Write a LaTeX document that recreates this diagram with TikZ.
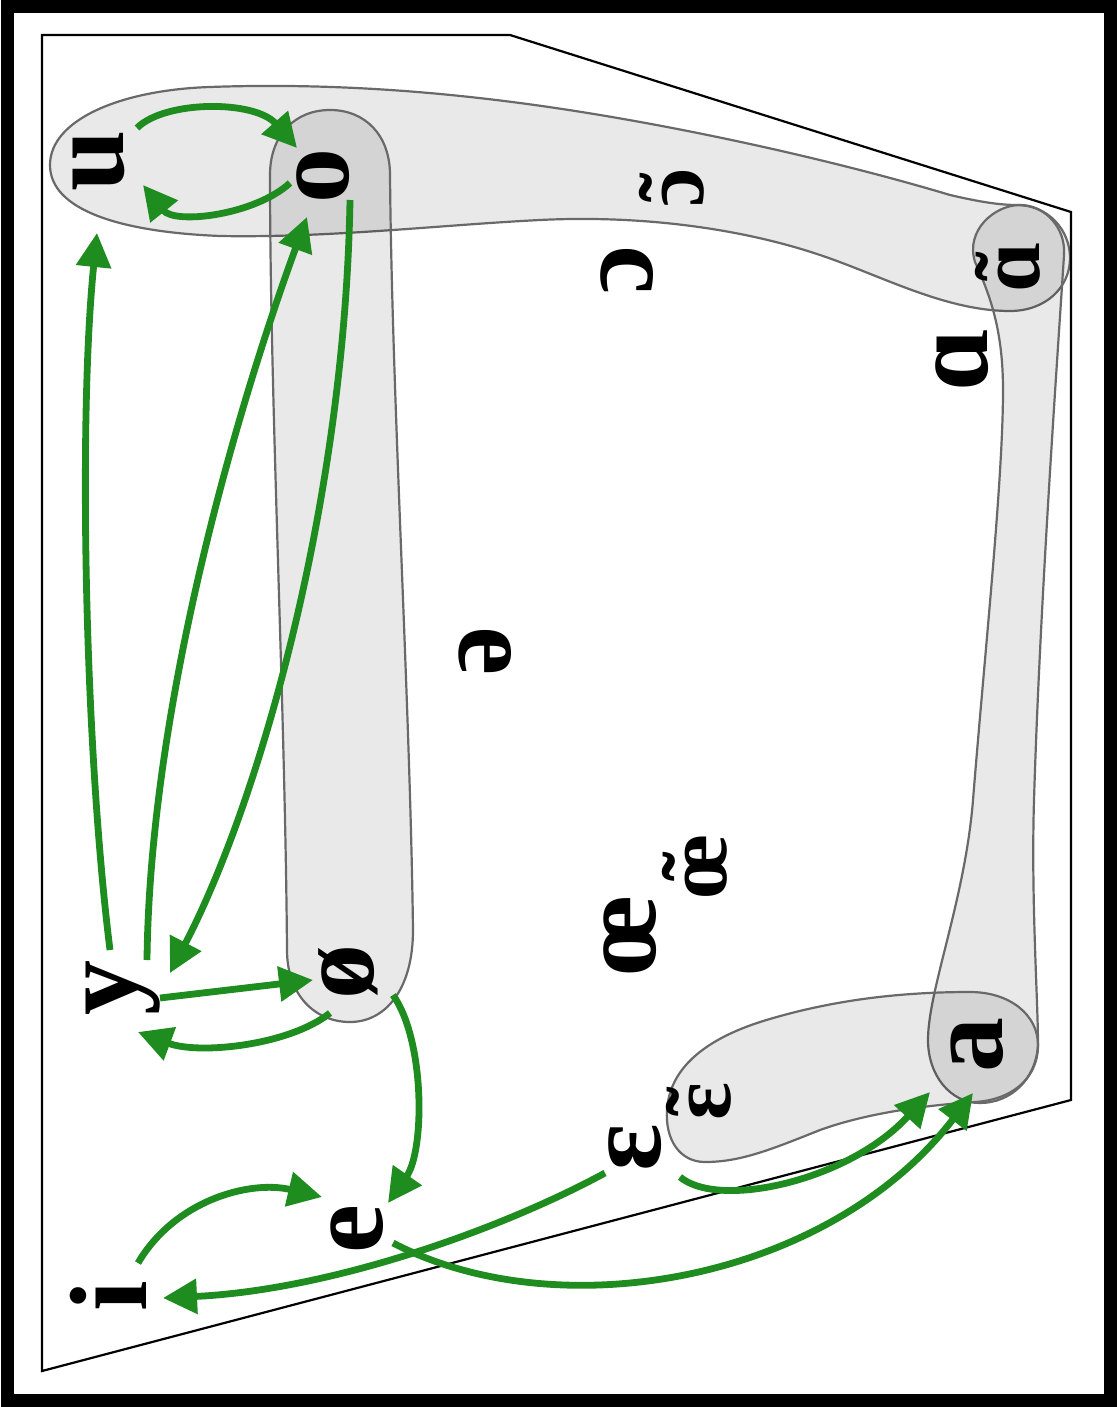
\documentclass[tikz,border=0pt]{standalone}
\usepackage{fontspec}
\setmainfont{Liberation Serif}
\usetikzlibrary{arrows.meta}
\definecolor{arrgreen}{RGB}{30,140,30}
\definecolor{bubline}{RGB}{105,105,105}
\newcommand\nasv[1]{{\ooalign{#1\cr\hidewidth\raisebox{0.04em}{\char"02DC}\hidewidth\cr}}}
\tikzset{
  vb/.style={rotate=90, inner sep=0pt, font=\fontsize{55}{55}\selectfont\bfseries},
  vn/.style={rotate=90, inner sep=0pt, font=\fontsize{44}{44}\selectfont\bfseries},
  bubble/.style={fill=black, fill opacity=0.085, draw=bubline, draw opacity=1, line width=1.1pt},
  arr/.style={draw=arrgreen, line width=3.4pt, -{Triangle[length=17pt,width=17pt]}},
}
\begin{document}
\begin{tikzpicture}[x=0.5pt,y=-0.5pt]
\useasboundingbox (0,0) rectangle (1117,1407);
\fill[white] (0,0) rectangle (1117,1407);
% bubbles
\path[bubble] (50,165) .. controls (50,120) and (120,90) .. (210,87)
  .. controls (350,82) and (480,95) .. (600,115)
  .. controls (720,135) and (850,165) .. (950,195)
  .. controls (980,202) and (1000,205) .. (1017,205)
  .. controls (1048,205) and (1070,230) .. (1070,258)
  .. controls (1070,288) and (1045,311) .. (1010,311)
  .. controls (945,311) and (880,275) .. (820,255)
  .. controls (740,228) and (640,215) .. (540,220)
  .. controls (440,225) and (330,238) .. (220,236)
  .. controls (120,232) and (50,210) .. (50,165) -- cycle;
\path[bubble] (1064,255) .. controls (1058,350) and (1040,600) .. (1034,800)
  .. controls (1031,900) and (1038,1000) .. (1038,1045)
  .. controls (1036,1080) and (1010,1103) .. (980,1103)
  .. controls (950,1103) and (928,1075) .. (928,1040)
  .. controls (928,990) and (965,900) .. (973,800)
  .. controls (985,650) and (1003,480) .. (1003,390)
  .. controls (1003,330) and (990,295) .. (975,262)
  .. controls (965,230) and (995,205) .. (1020,205)
  .. controls (1045,205) and (1066,228) .. (1064,255) -- cycle;
\path[bubble] (667,1110) .. controls (670,1060) and (720,1035) .. (760,1022)
  .. controls (830,1000) and (900,992) .. (970,992)
  .. controls (1010,992) and (1038,1015) .. (1038,1045)
  .. controls (1038,1080) and (1010,1100) .. (975,1102)
  .. controls (930,1105) and (870,1112) .. (820,1130)
  .. controls (770,1150) and (740,1162) .. (705,1162)
  .. controls (680,1162) and (665,1140) .. (667,1110) -- cycle;
\path[bubble] (270,175) .. controls (270,135) and (295,110) .. (330,110)
  .. controls (365,110) and (390,135) .. (390,175)
  .. controls (392,400) and (410,700) .. (413,930)
  .. controls (413,990) and (385,1022) .. (350,1022)
  .. controls (315,1022) and (287,995) .. (287,950)
  .. controls (285,700) and (270,400) .. (270,175) -- cycle;
% chart outline
\draw[line width=1.1pt] (42,35) -- (510,35) -- (1071,212) -- (1071,1100) -- (42,1371) -- cycle;
% frame
\draw[line width=6.5pt] (7,7) rectangle (1110,1400);
% vowels
\node[vb] (u) at (99,161) {u};
\node[vb] (o) at (323,176) {o};
\node[vn] (on) at (683,188) {\nasv{ɔ}};
\node[vb] (O) at (627,270) {ɔ};
\node[vn] (An) at (1019,267) {\nasv{ɑ}};
\node[vb] (A) at (962,360) {ɑ};
\node[vb] (schwa) at (485,651) {ə};
\node[vb] (oe) at (630,936) {œ};
\node[vn] (oen) at (706,867) {\nasv{œ}};
\node[vb] (y) at (123,988) {y};
\node[vb] (oslash) at (348,972) {ø};
\node[vb] (e) at (357,1229) {e};
\node[vb] (i) at (108,1296) {i};
\node[vb] (E) at (635,1148) {ɛ};
\node[vn] (En) at (710,1102) {\nasv{ɛ}};
\node[vb] (a) at (977,1045) {a};
% arrows
\draw[arr] ([shift={(38,-33)}]u.center) .. controls (165,100) and (255,100) .. ([shift={(-26,-28)}]o.center);
\draw[arr] ([shift={(-33,7)}]o.center) .. controls (255,215) and (175,225) .. ([shift={(44,24)}]u.center);
\draw[arr] ([shift={(-13,-38)}]y.center) .. controls (85,750) and (78,420) .. ([shift={(-2,72)}]u.center);
\draw[arr] ([shift={(24,-28)}]y.center) .. controls (150,700) and (240,400) .. ([shift={(-16,41)}]o.center);
\draw[arr] ([shift={(27,24)}]o.center) .. controls (345,500) and (260,800) .. ([shift={(47,-15)}]y.center);
\draw[arr] ([shift={(37,10)}]y.center) -- ([shift={(-35,8)}]oslash.center);
\draw[arr] ([shift={(-18,41)}]oslash.center) .. controls (290,1045) and (200,1055) .. ([shift={(15,44)}]y.center);
\draw[arr] ([shift={(45,23)}]oslash.center) .. controls (425,1040) and (425,1150) .. ([shift={(31,-26)}]e.center);
\draw[arr] ([shift={(30,-33)}]i.center) .. controls (175,1200) and (250,1180) .. ([shift={(-35,-32)}]e.center);
\draw[arr] ([shift={(-30,25)}]E.center) .. controls (500,1230) and (330,1290) .. ([shift={(55,2)}]i.center);
\draw[arr] ([shift={(36,14)}]e.center) .. controls (560,1330) and (830,1280) .. ([shift={(-4,48)}]a.center);
\draw[arr] ([shift={(45,29)}]E.center) .. controls (720,1210) and (850,1180) .. ([shift={(-47,47)}]a.center);
\end{tikzpicture}
\end{document}
